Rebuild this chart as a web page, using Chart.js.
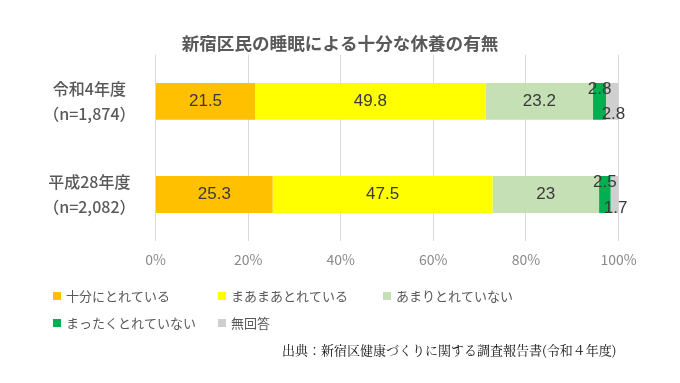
<!DOCTYPE html>
<html><head><meta charset="utf-8">
<script src="https://cdn.jsdelivr.net/npm/chart.js@4"></script>
<style>html,body{margin:0;padding:0;background:#fff}#wrap{position:relative;width:680px;height:383px}</style>
</head><body><div id="wrap"><canvas id="c"></canvas></div>
<script>
const chartTitle = '新宿区民の睡眠による十分な休養の有無';
const categoryNames = ['令和4年度', '平成28年度'];
const sampleSizes = ['（n=1,874）', '（n=2,082）'];
const seriesNames = ['十分にとれている', 'まあまあとれている', 'あまりとれていない', 'まったくとれていない', '無回答'];
const juubun = [21.5, 25.3];
const maamaa = [49.8, 47.5];
const amari = [23.2, 23];
const mattaku = [2.8, 2.5];
const mukaitou = [2.8, 1.7];
const xTickStep = 20;
const sourceNote = '出典：新宿区健康づくりに関する調査報告書(令和４年度)';

const seriesValues = [juubun, maamaa, amari, mattaku, mukaitou];
const seriesColors = ['#FFC000', '#FFFF00', '#C5E0B4', '#00B050', '#CFCFCF'];
const labelPlace = ['center', 'center', 'center', 'above', 'below'];

const dataLabelPlugin = {
  id: 'dataLabels',
  afterDatasetsDraw(chart) {
    const ctx = chart.ctx;
    ctx.save();
    ctx.font = '17px "Liberation Sans", Arial, sans-serif';
    ctx.fillStyle = '#3a3a3a';
    ctx.textAlign = 'center';
    ctx.textBaseline = 'middle';
    chart.data.datasets.forEach((ds, i) => {
      const meta = chart.getDatasetMeta(i);
      meta.data.forEach((el, j) => {
        const p = el.getProps(['x', 'y', 'base', 'height'], true);
        let cx = (p.x + p.base) / 2;
        let cy = p.y;
        if (labelPlace[i] === 'above') { cy = p.y - p.height / 2 + 6; }
        else if (labelPlace[i] === 'below') { cy = p.y + p.height / 2 - 5; cx += 1; }
        ctx.fillText(String(ds.data[j]), cx, cy);
      });
    });
    ctx.restore();
  }
};

const gridLegendPlugin = {
  id: 'gridLegend',
  afterDraw(chart, args, o) {
    const ctx = chart.ctx;
    ctx.save();
    ctx.font = o.font;
    ctx.textBaseline = 'middle';
    ctx.textAlign = 'left';
    chart.data.datasets.forEach((ds, i) => {
      const col = i % o.cols, row = Math.floor(i / o.cols);
      const x = o.x0 + col * o.colW, y = o.y0 + row * o.rowH;
      ctx.fillStyle = ds.backgroundColor;
      ctx.fillRect(x, y - o.box / 2, o.box, o.box);
      ctx.fillStyle = o.color;
      ctx.fillText(ds.label, x + o.box + o.gap, y);
    });
    ctx.font = o.noteFont;
    ctx.fillStyle = o.noteColor;
    ctx.fillText(sourceNote, o.noteX, o.noteY);
    ctx.restore();
  }
};

new Chart(document.getElementById('c'), {
  type: 'bar',
  data: {
    labels: categoryNames.map((n, i) => [n, sampleSizes[i]]),
    datasets: seriesNames.map((name, i) => ({
      label: name,
      data: seriesValues[i],
      backgroundColor: seriesColors[i],
      borderWidth: 0,
      categoryPercentage: 1,
      barPercentage: 0.396
    }))
  },
  options: {
    indexAxis: 'y',
    responsive: true,
    maintainAspectRatio: false,
    animation: false,
    layout: { padding: { left: 0, right: 0, top: 0, bottom: 105 } },
    scales: {
      x: {
        stacked: true,
        min: 0, max: 100,
        ticks: {
          stepSize: xTickStep,
          callback: v => v + '%',
          color: '#8a8a8a',
          font: { family: '"Noto Sans CJK JP", "Noto Sans", sans-serif', size: 14 },
          padding: 10
        },
        grid: { color: '#d9d9d9', lineWidth: 1, drawTicks: false },
        border: { display: false }
      },
      y: {
        stacked: true,
        afterFit(scale) { scale.width = 155.5; },
        ticks: {
          crossAlign: 'center',
          padding: 20,
          color: '#595959',
          font: { family: '"Noto Sans CJK JP", sans-serif', size: 16, weight: '500', lineHeight: 1.56 }
        },
        grid: { display: false, drawTicks: false },
        border: { display: false }
      },
      yRight: {
        position: 'right',
        afterFit(scale) { scale.width = 61.5; },
        ticks: { display: false },
        grid: { display: false, drawTicks: false },
        border: { display: false }
      }
    },
    plugins: {
      legend: { display: false },
      tooltip: { enabled: false },
      title: {
        display: true,
        text: chartTitle,
        color: '#595959',
        font: { family: '"Noto Sans CJK JP", sans-serif', size: 17.6, weight: 'bold', lineHeight: 1.2 },
        padding: { top: 33, bottom: 0.6 }
      },
      gridLegend: {
        font: '13px "Noto Sans CJK JP", sans-serif',
        color: '#595959',
        cols: 3, x0: 53, colW: 165, y0: 296, rowH: 27, box: 8, gap: 5,
        noteFont: '13px "Noto Serif CJK JP", serif',
        noteColor: '#111111',
        noteX: 282, noteY: 350
      }
    }
  },
  plugins: [dataLabelPlugin, gridLegendPlugin]
});
</script>
</body></html>
